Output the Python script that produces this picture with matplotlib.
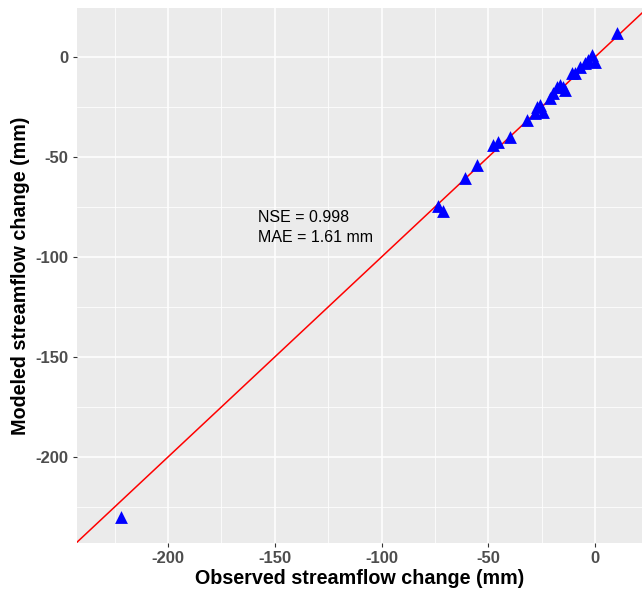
import matplotlib.pyplot as plt
from matplotlib.ticker import MultipleLocator

# observed vs modeled streamflow change (mm)
observed = [10.1, -1.5, 0.0, -3.2, -4.7, -7.0, -9.4, -11.0, -15.0, -14.0,
            -16.4, -18.0, -19.7, -21.0, -25.8, -27.3, -24.4, -28.0, -32.0,
            -39.8, -45.4, -47.8, -55.4, -61.0, -73.5, -71.0, -222.0]
modeled = [11.8, 1.0, -2.3, -1.5, -3.2, -4.8, -8.0, -8.0, -15.0, -16.5,
           -14.0, -15.0, -18.0, -20.5, -24.0, -24.8, -27.3, -28.0, -31.5,
           -39.8, -42.3, -44.0, -54.0, -60.5, -74.5, -77.0, -230.0]

x_ticks = [-200, -150, -100, -50, 0]
y_ticks = [-200, -150, -100, -50, 0]

plt.rcParams['font.family'] = ['Liberation Sans', 'DejaVu Sans']
plt.rcParams['axes.unicode_minus'] = False

fig = plt.figure(figsize=(6.42, 5.94), dpi=100)
ax = fig.add_axes([0.12, 0.0859, 0.88, 0.9006])

ax.set_facecolor('#EBEBEB')
ax.set_xlim(-242.6, 22)
ax.set_ylim(-243, 24.5)

ax.set_xticks(x_ticks)
ax.set_yticks(y_ticks)
ax.xaxis.set_minor_locator(MultipleLocator(25))
ax.yaxis.set_minor_locator(MultipleLocator(25))
ax.grid(which='major', color='white', linewidth=1.1)
ax.grid(which='minor', color='white', linewidth=0.55)
ax.set_axisbelow(True)
for s in ax.spines.values():
    s.set_visible(False)

ax.tick_params(which='major', length=3, color='#333333', width=0.8,
               labelsize=12, labelcolor='#4D4D4D', pad=3)
ax.tick_params(which='minor', length=0)
for lab in ax.get_xticklabels() + ax.get_yticklabels():
    lab.set_fontweight('bold')

# 1:1 line
ax.axline((0, 0), slope=1, color='red', linewidth=1.1, zorder=2)

ax.scatter(observed, modeled, marker='^', s=85, color='blue', zorder=3,
           linewidths=0)

ax.text(-158, -80, 'NSE = 0.998', fontsize=11.5, va='center', ha='left')
ax.text(-158, -90, 'MAE = 1.61 mm', fontsize=11.5, va='center', ha='left')

ax.set_xlabel('Observed streamflow change (mm)', fontsize=14.2,
              fontweight='bold', labelpad=2)
ax.set_ylabel('Modeled streamflow change (mm)', fontsize=14.2,
              fontweight='bold', labelpad=4)

fig.savefig('out.png', dpi=100)
